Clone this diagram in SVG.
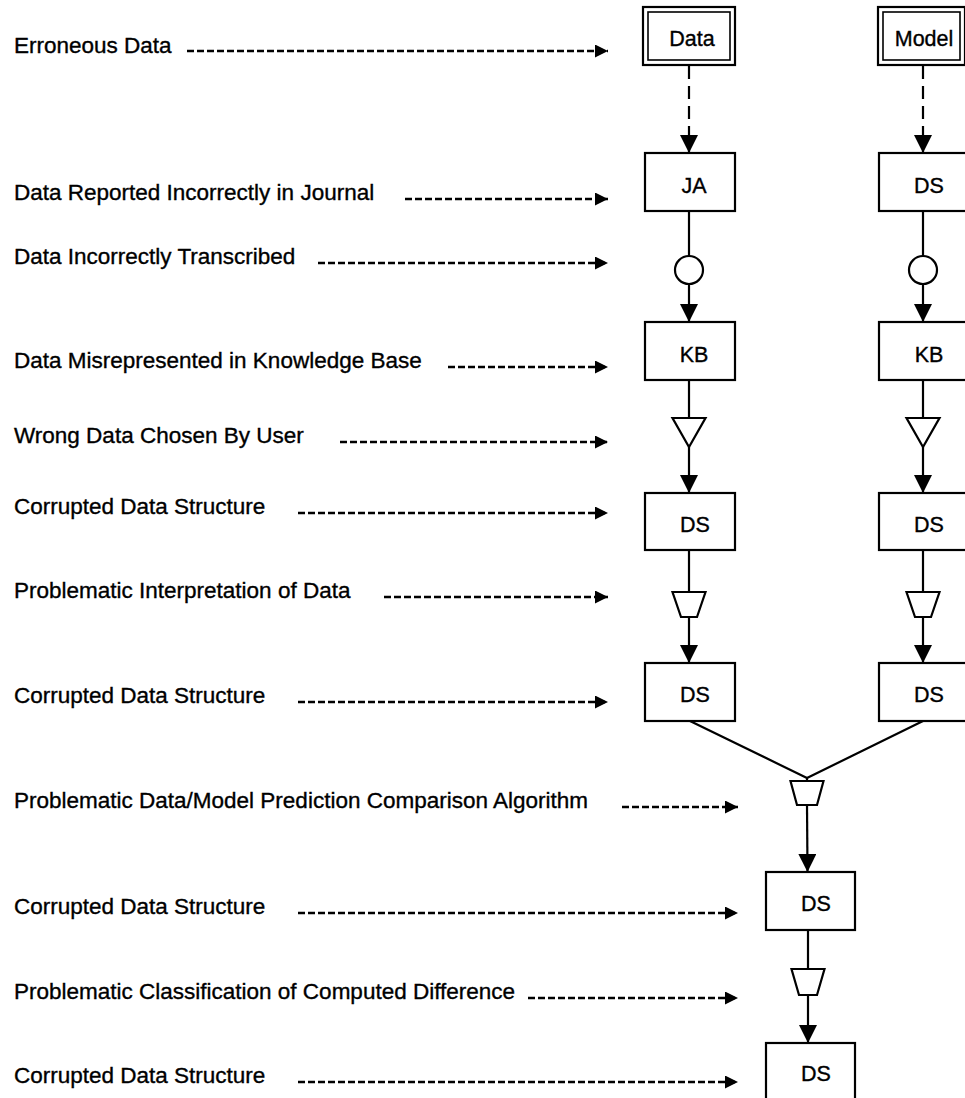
<svg xmlns="http://www.w3.org/2000/svg" width="965" height="1098" viewBox="0 0 965 1098">
  <style>
    .lbl { font-family: "Liberation Sans", Arial, Helvetica, sans-serif; font-size: 22.5px; fill: #000; stroke: #000; stroke-width: 0.35; }
    .nl { font-family: "Liberation Sans", Arial, Helvetica, sans-serif; font-size: 21.5px; fill: #000; stroke: #000; stroke-width: 0.35; text-anchor: middle; }
    .box { fill: #fff; stroke: #000; stroke-width: 2.2; }
    .inner { fill: none; stroke: #000; stroke-width: 1.6; }
    .op { fill: #fff; stroke: #000; stroke-width: 2.2; stroke-linejoin: miter; }
    .flow { fill: none; stroke: #000; stroke-width: 2.2; }
    .flowd { fill: none; stroke: #000; stroke-width: 2.2; stroke-dasharray: 13 7; }
    .err { fill: none; stroke: #000; stroke-width: 2.4; stroke-dasharray: 7 3; }
  </style>
  <defs>
    <marker id="down" markerUnits="userSpaceOnUse" markerWidth="18" markerHeight="18" viewBox="0 0 16 16" refX="16" refY="8" orient="auto">
      <path d="M0,0 L16,8 L0,16 Z" fill="#000"/>
    </marker>
    <marker id="right" markerUnits="userSpaceOnUse" markerWidth="13" markerHeight="13" viewBox="0 0 13 13" refX="13" refY="6.5" orient="auto">
      <path d="M0,0 L13,6.5 L0,13 Z" fill="#000"/>
    </marker>
  </defs>
  <rect width="965" height="1098" fill="#fff"/>

  <!-- error-source labels -->
  <g id="labels">
    <text class="lbl" x="14" y="53">Erroneous Data</text>
    <text class="lbl" x="14" y="200">Data Reported Incorrectly in Journal</text>
    <text class="lbl" x="14" y="264">Data Incorrectly Transcribed</text>
    <text class="lbl" x="14" y="368">Data Misrepresented in Knowledge Base</text>
    <text class="lbl" x="14" y="443">Wrong Data Chosen By User</text>
    <text class="lbl" x="14" y="514">Corrupted Data Structure</text>
    <text class="lbl" x="14" y="598">Problematic Interpretation of Data</text>
    <text class="lbl" x="14" y="703">Corrupted Data Structure</text>
    <text class="lbl" x="14" y="808">Problematic Data/Model Prediction Comparison Algorithm</text>
    <text class="lbl" x="14" y="914">Corrupted Data Structure</text>
    <text class="lbl" x="14" y="999">Problematic Classification of Computed Difference</text>
    <text class="lbl" x="14" y="1083">Corrupted Data Structure</text>
  </g>

  <!-- connectors -->
  <g id="connectors">
    <!-- label pointers -->
    <line class="err" x1="187" y1="51" x2="608" y2="51" marker-end="url(#right)"/>
    <line class="err" x1="405" y1="199" x2="608" y2="199" marker-end="url(#right)"/>
    <line class="err" x1="318" y1="263" x2="608" y2="263" marker-end="url(#right)"/>
    <line class="err" x1="448" y1="367" x2="608" y2="367" marker-end="url(#right)"/>
    <line class="err" x1="340" y1="442" x2="608" y2="442" marker-end="url(#right)"/>
    <line class="err" x1="298" y1="513" x2="608" y2="513" marker-end="url(#right)"/>
    <line class="err" x1="384" y1="597" x2="608" y2="597" marker-end="url(#right)"/>
    <line class="err" x1="298" y1="702" x2="608" y2="702" marker-end="url(#right)"/>
    <line class="err" x1="622" y1="807" x2="738" y2="807" marker-end="url(#right)"/>
    <line class="err" x1="298" y1="913" x2="738" y2="913" marker-end="url(#right)"/>
    <line class="err" x1="528" y1="998" x2="738" y2="998" marker-end="url(#right)"/>
    <line class="err" x1="298" y1="1082" x2="738" y2="1082" marker-end="url(#right)"/>

    <!-- data column -->
    <line class="flowd" x1="689" y1="66" x2="689" y2="153" marker-end="url(#down)"/>
    <line class="flow" x1="689" y1="211" x2="689" y2="256"/>
    <line class="flow" x1="689" y1="284" x2="689" y2="322" marker-end="url(#down)"/>
    <line class="flow" x1="689" y1="380" x2="689" y2="418"/>
    <line class="flow" x1="689" y1="447" x2="689" y2="493" marker-end="url(#down)"/>
    <line class="flow" x1="689" y1="550" x2="689" y2="592"/>
    <line class="flow" x1="689" y1="617" x2="689" y2="663" marker-end="url(#down)"/>

    <!-- model column -->
    <line class="flowd" x1="923" y1="66" x2="923" y2="153" marker-end="url(#down)"/>
    <line class="flow" x1="923" y1="211" x2="923" y2="256"/>
    <line class="flow" x1="923" y1="284" x2="923" y2="322" marker-end="url(#down)"/>
    <line class="flow" x1="923" y1="380" x2="923" y2="418"/>
    <line class="flow" x1="923" y1="447" x2="923" y2="493" marker-end="url(#down)"/>
    <line class="flow" x1="923" y1="550" x2="923" y2="592"/>
    <line class="flow" x1="923" y1="617" x2="923" y2="663" marker-end="url(#down)"/>

    <!-- merge and comparison chain -->
    <polyline class="flow" points="690,721 807,778 923,721"/>
    <line class="flow" x1="807" y1="778" x2="807" y2="781"/>
    <line class="flow" x1="807" y1="805" x2="807.5" y2="872" marker-end="url(#down)"/>
    <line class="flow" x1="808" y1="930" x2="808" y2="969"/>
    <line class="flow" x1="808" y1="995" x2="808" y2="1043" marker-end="url(#down)"/>
  </g>

  <!-- data column nodes -->
  <g id="data-src">
    <rect class="box" x="643" y="7" width="92" height="58"/>
    <rect class="inner" x="648" y="12" width="82" height="48"/>
    <text class="nl" x="692" y="46">Data</text>
  </g>
  <g id="data-ja">
    <rect class="box" x="645" y="153" width="90" height="58"/>
    <text class="nl" x="694" y="193">JA</text>
  </g>
  <g id="data-transcribe">
    <circle class="op" cx="689" cy="270" r="14"/>
  </g>
  <g id="data-kb">
    <rect class="box" x="645" y="322" width="90" height="58"/>
    <text class="nl" x="694" y="362">KB</text>
  </g>
  <g id="data-select">
    <polygon class="op" points="672.5,418 705.5,418 689,447"/>
  </g>
  <g id="data-ds1">
    <rect class="box" x="645" y="493" width="90" height="57"/>
    <text class="nl" x="695" y="532">DS</text>
  </g>
  <g id="data-interpret">
    <polygon class="op" points="672.5,592 705.5,592 697,617 681,617"/>
  </g>
  <g id="data-ds2">
    <rect class="box" x="645" y="663" width="90" height="58"/>
    <text class="nl" x="695" y="702">DS</text>
  </g>

  <!-- model column nodes -->
  <g id="model-src">
    <rect class="box" x="878" y="7" width="87" height="58"/>
    <rect class="inner" x="883" y="12" width="77" height="48"/>
    <text class="nl" x="924" y="46">Model</text>
  </g>
  <g id="model-ds0">
    <rect class="box" x="879" y="153" width="90" height="58"/>
    <text class="nl" x="929" y="193">DS</text>
  </g>
  <g id="model-transcribe">
    <circle class="op" cx="923" cy="270" r="14"/>
  </g>
  <g id="model-kb">
    <rect class="box" x="879" y="322" width="90" height="58"/>
    <text class="nl" x="929" y="362">KB</text>
  </g>
  <g id="model-select">
    <polygon class="op" points="906.5,418 939.5,418 923,447"/>
  </g>
  <g id="model-ds1">
    <rect class="box" x="879" y="493" width="90" height="57"/>
    <text class="nl" x="929" y="532">DS</text>
  </g>
  <g id="model-interpret">
    <polygon class="op" points="906.5,592 939.5,592 931,617 915,617"/>
  </g>
  <g id="model-ds2">
    <rect class="box" x="879" y="663" width="90" height="58"/>
    <text class="nl" x="929" y="702">DS</text>
  </g>

  <!-- comparison chain nodes -->
  <g id="compare">
    <polygon class="op" points="790.5,781 823.5,781 817,805 797,805"/>
  </g>
  <g id="diff-ds">
    <rect class="box" x="766" y="872" width="89" height="58"/>
    <text class="nl" x="816" y="911">DS</text>
  </g>
  <g id="classify">
    <polygon class="op" points="791.5,969 824.5,969 817,995 799,995"/>
  </g>
  <g id="class-ds">
    <rect class="box" x="766" y="1043" width="89" height="60"/>
    <text class="nl" x="816" y="1081">DS</text>
  </g>
</svg>
